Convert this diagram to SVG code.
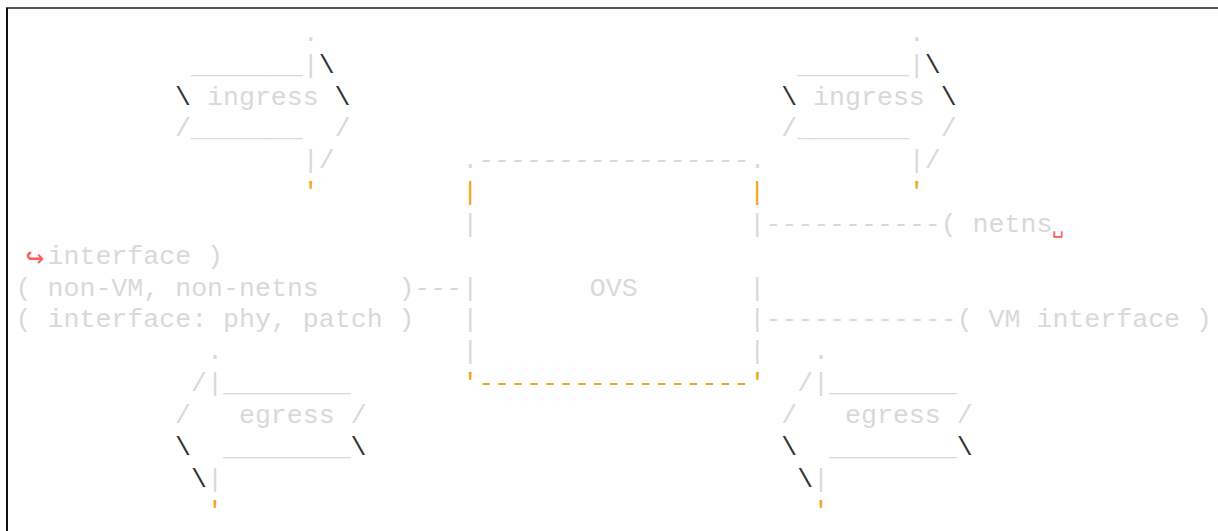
<svg xmlns="http://www.w3.org/2000/svg" width="1218" height="531" viewBox="0 0 1218 531">
<style>
text{font-family:"Liberation Mono","DejaVu Sans Mono",monospace;font-size:26.6px;white-space:pre;fill:#d9d9d9}
.d{fill:#333}
.o{fill:#f2a325}
.r{fill:#ff5a5a;font-family:"DejaVu Sans Mono",monospace}
</style>
<rect width="1218" height="531" fill="#fff"/>
<line x1="6" y1="8" x2="1218" y2="8" stroke="#555" stroke-width="2"/>
<line x1="7" y1="8" x2="7" y2="531" stroke="#111" stroke-width="2"/>
<g id="ingress-left">
<text x="302.7" y="40.8">.</text>
<text x="191.05" y="72.65">_______|</text><text class="d" x="318.65" y="72.65">\</text>
<text class="d" x="175.1" y="104.5">\</text><text x="191.05" y="104.5" xml:space="preserve"> ingress </text><text class="d" x="334.6" y="104.5">\</text>
<text x="175.1" y="136.35" xml:space="preserve">/_______  /</text>
<text x="302.7" y="168.2">|/</text>
<text class="o" x="302.7" y="200.05">'</text>
</g>
<g id="ingress-right">
<text x="908.8" y="40.8">.</text>
<text x="797.15" y="72.65">_______|</text><text class="d" x="924.75" y="72.65">\</text>
<text class="d" x="781.2" y="104.5">\</text><text x="797.15" y="104.5" xml:space="preserve"> ingress </text><text class="d" x="940.7" y="104.5">\</text>
<text x="781.2" y="136.35" xml:space="preserve">/_______  /</text>
<text x="908.8" y="168.2">|/</text>
<text class="o" x="908.8" y="200.05">'</text>
</g>
<g id="ovs">
<text x="462.2" y="168.2">.-----------------.</text>
<text class="o" x="462.2" y="200.05">|</text><text class="o" x="749.3" y="200.05">|</text>
<text x="462.2" y="231.9">|</text><text x="749.3" y="231.9">|</text>
<text x="462.2" y="295.6">|</text><text x="589.8" y="295.6">OVS</text><text x="749.3" y="295.6">|</text>
<text x="462.2" y="327.45">|</text><text x="749.3" y="327.45">|</text>
<text x="462.2" y="359.3">|</text><text x="749.3" y="359.3">|</text>
<text class="o" x="462.2" y="391.15">'-----------------'</text>
</g>
<g id="connectors">
<text x="765.25" y="231.9">-----------</text>
<text x="414.35" y="295.6">---</text>
<text x="765.25" y="327.45">------------</text>
</g>
<g id="netns-interface">
<text x="940.7" y="231.9" xml:space="preserve">( netns</text><text class="r" x="1052" y="233" style="font-size:20px">␣</text>
<text class="r" x="26" y="267" style="font-size:30px">↪</text><text x="47.5" y="263.75" xml:space="preserve">interface )</text>
</g>
<g id="non-vm-interface">
<text x="15.6" y="295.6" xml:space="preserve">( non-VM, non-netns     )</text>
<text x="15.6" y="327.45" xml:space="preserve">( interface: phy, patch )</text>
</g>
<g id="vm-interface">
<text x="956.65" y="327.45" xml:space="preserve">( VM interface )</text>
</g>
<g id="egress-left">
<text x="207" y="359.3">.</text>
<text x="191.05" y="391.15">/|________</text>
<text x="175.1" y="423" xml:space="preserve">/   egress /</text>
<text class="d" x="175.1" y="454.85">\</text><text x="191.05" y="454.85" xml:space="preserve">  ________</text><text class="d" x="350.55" y="454.85">\</text>
<text class="d" x="191.05" y="486.7">\</text><text x="207" y="486.7">|</text>
<text class="o" x="207" y="518.55">'</text>
</g>
<g id="egress-right">
<text x="813.1" y="359.3">.</text>
<text x="797.15" y="391.15">/|________</text>
<text x="781.2" y="423" xml:space="preserve">/   egress /</text>
<text class="d" x="781.2" y="454.85">\</text><text x="797.15" y="454.85" xml:space="preserve">  ________</text><text class="d" x="956.65" y="454.85">\</text>
<text class="d" x="797.15" y="486.7">\</text><text x="813.1" y="486.7">|</text>
<text class="o" x="813.1" y="518.55">'</text>
</g>
</svg>
